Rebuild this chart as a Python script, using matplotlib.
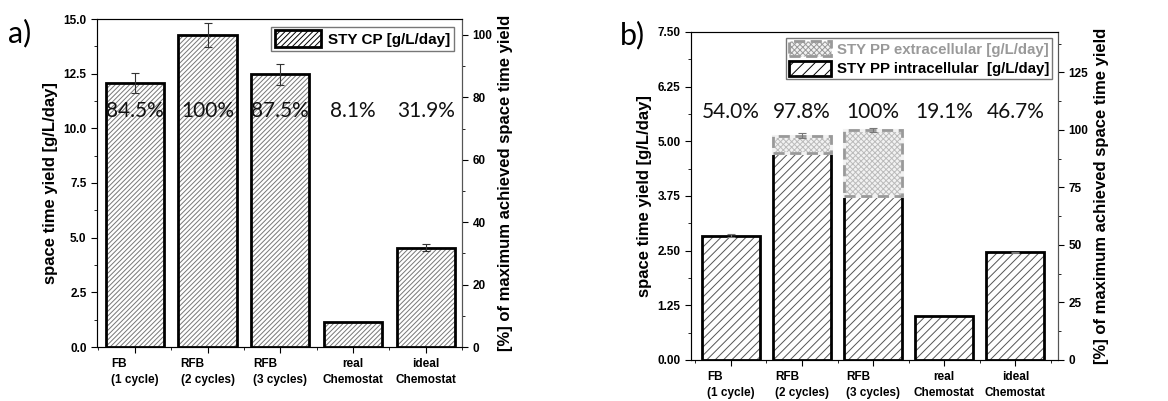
import matplotlib.pyplot as plt
import matplotlib as mpl

plt.rcParams['font.family'] = ['Liberation Sans', 'DejaVu Sans']
plt.rcParams['hatch.linewidth'] = 0.7

categories = ['FB\n(1 cycle)', 'RFB\n(2 cycles)', 'RFB\n(3 cycles)', 'real\nChemostat', 'ideal\nChemostat']

# panel a: STY CP
sty_cp = [12.07, 14.27, 12.47, 1.15, 4.55]
sty_cp_err = [0.47, 0.55, 0.48, 0.0, 0.15]
pct_a = ['84.5%', '100%', '87.5%', '8.1%', '31.9%']

# panel b: STY PP
sty_pp_intra = [2.84, 4.73, 3.76, 1.01, 2.46]
sty_pp_extra = [0.0, 0.40, 1.50, 0.0, 0.0]
sty_pp_err = [0.03, 0.06, 0.05, 0.0, 0.01]
pct_b = ['54.0%', '97.8%', '100%', '19.1%', '46.7%']

x = [1, 2, 3, 4, 5]
fig = plt.figure(figsize=(11.68, 4.01), dpi=100)

TICK_FS = 8.5
LABEL_FS = 12


def style_axes(ax):
    for s in ax.spines.values():
        s.set_linewidth(0.8)
        s.set_color('#555555')
    ax.set_xticks(x)
    labs = ax.set_xticklabels(categories, fontsize=TICK_FS, fontweight='bold', linespacing=1.4)
    for lab, al in zip(labs, ['left', 'left', 'left', 'center', 'center']):
        lab.set_multialignment(al)
    ax.tick_params(axis='x', length=4, pad=4)
    ax.tick_params(axis='y', length=4)
    for lab in ax.get_yticklabels():
        lab.set_fontweight('bold')
        lab.set_fontsize(TICK_FS)


def style_right(ax):
    ax.tick_params(axis='y', length=4)
    ax.spines['right'].set_color('#555555')
    for lab in ax.get_yticklabels():
        lab.set_fontweight('bold')
        lab.set_fontsize(TICK_FS)
    ax.set_ylabel('[%] of maximum achieved space time yield', fontsize=LABEL_FS, fontweight='bold')


# ---------- panel a ----------
ax1 = fig.add_axes([97 / 1168, 1 - 347 / 401, 365 / 1168, 328 / 401])
ax1.bar(x, sty_cp, width=0.8, color='white', edgecolor='#777777', linewidth=0,
        hatch='///////')
ax1.bar(x, sty_cp, width=0.8, fill=False, edgecolor='black', linewidth=2)
for xi, v, e in zip(x, sty_cp, sty_cp_err):
    if e > 0:
        ax1.errorbar(xi, v, yerr=e, color='#333333', capsize=3, elinewidth=0.8, capthick=0.8)
for xi, t in zip(x, pct_a):
    ax1.text(xi, 10.8, t, ha='center', va='center', fontsize=15, family='Lato',
             color='#111111')
ax1.set_xlim(0.48, 5.5)
ax1.set_ylim(0, 15)
ax1.set_yticks([0, 2.5, 5, 7.5, 10, 12.5, 15])
ax1.set_yticklabels(['0.0', '2.5', '5.0', '7.5', '10.0', '12.5', '15.0'])
ax1.yaxis.set_minor_locator(mpl.ticker.MultipleLocator(1.25))
ax1.xaxis.set_minor_locator(mpl.ticker.MultipleLocator(0.5))
ax1.set_ylabel('space time yield [g/L/day]', fontsize=LABEL_FS, fontweight='bold')
style_axes(ax1)
h_a = mpl.patches.Patch(facecolor='white', edgecolor='black', linewidth=2, hatch='//////')
leg = ax1.legend([h_a], ['STY CP [g/L/day]'], loc='upper right', fontsize=11, frameon=True,
                 fancybox=False, handlelength=3, handleheight=1.3, borderpad=0.25,
                 borderaxespad=0.5, handletextpad=0.5)
leg.get_frame().set_edgecolor('#555555')
for t in leg.get_texts():
    t.set_fontweight('bold')
ax1r = ax1.twinx()
ax1r.set_ylim(0, 15 / 14.27 * 100)
ax1r.set_yticks([0, 20, 40, 60, 80, 100])
ax1r.yaxis.set_minor_locator(mpl.ticker.MultipleLocator(10))
style_right(ax1r)
fig.text(8 / 1168, 1 - 33 / 401, 'a)', fontsize=22, family='Lato', va='center')

# ---------- panel b ----------
ax2 = fig.add_axes([691 / 1168, 1 - 360 / 401, 367 / 1168, 328 / 401])
ax2.bar(x, sty_pp_intra, width=0.82, color='white', edgecolor='#555555', linewidth=0,
        hatch='////')
ax2.bar(x, sty_pp_intra, width=0.82, fill=False, edgecolor='black', linewidth=2)
# extracellular part stacked on top (only where present)
ex_x = [xi for xi, e in zip(x, sty_pp_extra) if e > 0]
ex_h = [e for e in sty_pp_extra if e > 0]
ex_b = [b for b, e in zip(sty_pp_intra, sty_pp_extra) if e > 0]
ax2.bar(ex_x, ex_h, width=0.82, bottom=ex_b, color='#f2f2f2',
        edgecolor='#bbbbbb', linewidth=0, hatch='xxxxxx', zorder=3)
ax2.bar(ex_x, ex_h, width=0.82, bottom=ex_b, fill=False,
        edgecolor='#f2f2f2', linewidth=2.2, zorder=3)
ax2.bar(ex_x, ex_h, width=0.82, bottom=ex_b, fill=False,
        edgecolor='#999999', linewidth=2, linestyle=(0, (4, 2)), zorder=3)
tops = [a + b for a, b in zip(sty_pp_intra, sty_pp_extra)]
for xi, v, e in zip(x, tops, sty_pp_err):
    if e > 0:
        ax2.errorbar(xi, v, yerr=e, color='#777777', capsize=3, elinewidth=0.8,
                     capthick=0.8, zorder=4)
for xi, t in zip(x, pct_b):
    ax2.text(xi, 5.68, t, ha='center', va='center', fontsize=15, family='Lato',
             color='#111111')
ax2.set_xlim(0.44, 5.6)
ax2.set_ylim(0, 7.5)
ax2.set_yticks([0, 1.25, 2.5, 3.75, 5, 6.25, 7.5])
ax2.set_yticklabels(['0.00', '1.25', '2.50', '3.75', '5.00', '6.25', '7.50'])
ax2.yaxis.set_minor_locator(mpl.ticker.MultipleLocator(0.625))
ax2.xaxis.set_minor_locator(mpl.ticker.MultipleLocator(0.5))
ax2.set_ylabel('space time yield [g/L/day]', fontsize=LABEL_FS, fontweight='bold')
style_axes(ax2)
h_ext = mpl.patches.Patch(facecolor='#f2f2f2', edgecolor='#999999', linewidth=2,
                          linestyle=(0, (4, 2)), hatch='xxxxxx')
h_int = mpl.patches.Patch(facecolor='white', edgecolor='black', linewidth=2, hatch='///')
leg2 = ax2.legend([h_ext, h_int], ['STY PP extracellular [g/L/day]', 'STY PP intracellular  [g/L/day]'],
                  loc='upper right', fontsize=10.8, frameon=True, fancybox=False,
                  handlelength=2.8, handleheight=1.2, borderpad=0.2, labelspacing=0.25,
                  borderaxespad=0.4, handletextpad=0.4)
leg2.get_frame().set_edgecolor('#555555')
for t, c in zip(leg2.get_texts(), ['#999999', 'black']):
    t.set_fontweight('bold')
    t.set_color(c)
ax2r = ax2.twinx()
ax2r.set_ylim(0, 7.5 / 5.26 * 100)
ax2r.set_yticks([0, 25, 50, 75, 100, 125])
ax2r.yaxis.set_minor_locator(mpl.ticker.MultipleLocator(12.5))
style_right(ax2r)
fig.text(620 / 1168, 1 - 35 / 401, 'b)', fontsize=22, family='Lato', va='center')

fig.savefig('out.png', dpi=100)
